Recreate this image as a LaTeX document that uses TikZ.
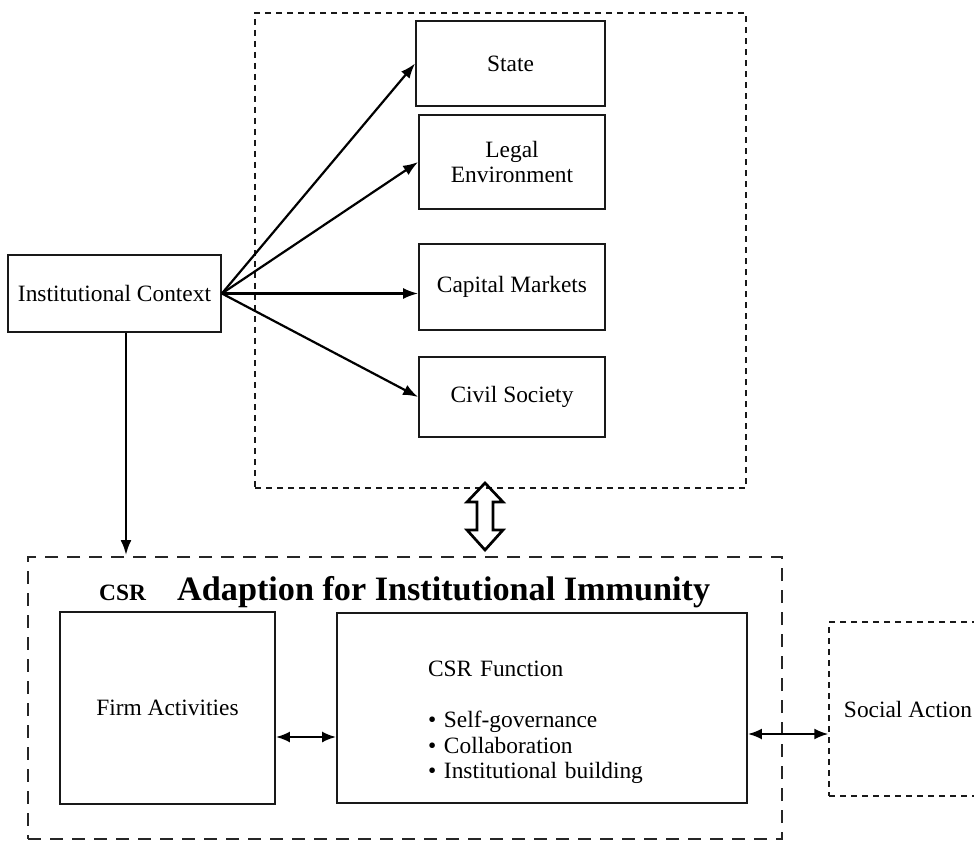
\documentclass[tikz,border=0pt]{standalone}
\usepackage{fontspec}
\setmainfont{Liberation Serif}
\usetikzlibrary{arrows.meta}
\begin{document}
\begin{tikzpicture}[x=1pt,y=-1pt,
  every node/.style={font=\fontsize{23.4}{25.5}\selectfont},
  box/.style={draw=black!90, line width=1.8pt, inner sep=0pt, align=center},
  arr/.style={-{Latex[length=15pt,width=11pt]}, line width=2.2pt},
  darr/.style={{Latex[length=14pt,width=11pt]}-{Latex[length=14pt,width=11pt]}, line width=2.2pt},
  thindash/.style={draw=black!90, line width=1.4pt, dash pattern=on 6pt off 5pt, inner sep=0pt},
  thickdash/.style={draw=black!85, line width=2.7pt, dash pattern=on 13pt off 9pt, inner sep=0pt}]
\useasboundingbox (0,0) rectangle (974,842);
\clip (0,0) rectangle (974,842);

% upper group
\node[thindash, minimum width=491pt, minimum height=475pt] (tbox) at (500.5,250.5) {};
\node[box, minimum width=189pt, minimum height=85pt] (state) at (510.5,63.5) {State};
\node[box, minimum width=186pt, minimum height=94pt] (legal) at (512,162) {Legal\\Environment};
\node[box, minimum width=186pt, minimum height=86pt] (capital) at (512,287) {Capital Markets};
\node[box, minimum width=186pt, minimum height=80pt] (civil) at (512,397) {Civil Society};
\node[box, minimum width=213pt, minimum height=77pt] (inst) at (114.5,293.5) {Institutional Context};

\draw[arr] (inst.east) -- (state.west);
\draw[arr] (inst.east) -- (legal.west);
\draw[arr] (inst.east) -- (inst.east -| capital.west);
\draw[arr] (inst.east) -- (civil.west);

% lower group
\node[thickdash, minimum width=754pt, minimum height=282pt] (bbox) at (405,698) {};
\coordinate (vt) at (126,555);
\draw[arr] (inst.south -| vt) -- (vt);

\draw[line width=2.7pt, line join=miter]
  (485,483) -- (503,502) -- (493,502) -- (493,530) -- (503,530) -- (485,550)
  -- (467,530) -- (477,530) -- (477,502) -- (467,502) -- cycle;

\node[anchor=base west, inner sep=0pt, font=\bfseries\fontsize{23.4}{25}\selectfont] (csrl) at (99,600) {CSR};
\node[anchor=base west, inner sep=0pt, font=\bfseries\fontsize{34.2}{36}\selectfont] (title) at (177,600) {Adaption for Institutional Immunity};

\node[box, minimum width=215pt, minimum height=192pt] (firm) at (167.5,708) {Firm Activities};
\node[box, align=left, text width=228pt, minimum width=410pt, minimum height=190pt] (csr) at (542,708)
  {\mbox{}\\[19pt]CSR Function\\[25.5pt]\textbullet\ Self-governance\\\textbullet\ Collaboration\\\textbullet\ Institutional building};
\node[thindash, minimum width=158pt, minimum height=174pt] (social) at (908,709) {Social Action};

\draw[darr] ([yshift=-29pt]firm.east) -- ([yshift=-29pt]csr.west);
\draw[darr] ([yshift=-26pt]csr.east) -- ([yshift=-25pt]social.west);
\end{tikzpicture}
\end{document}
